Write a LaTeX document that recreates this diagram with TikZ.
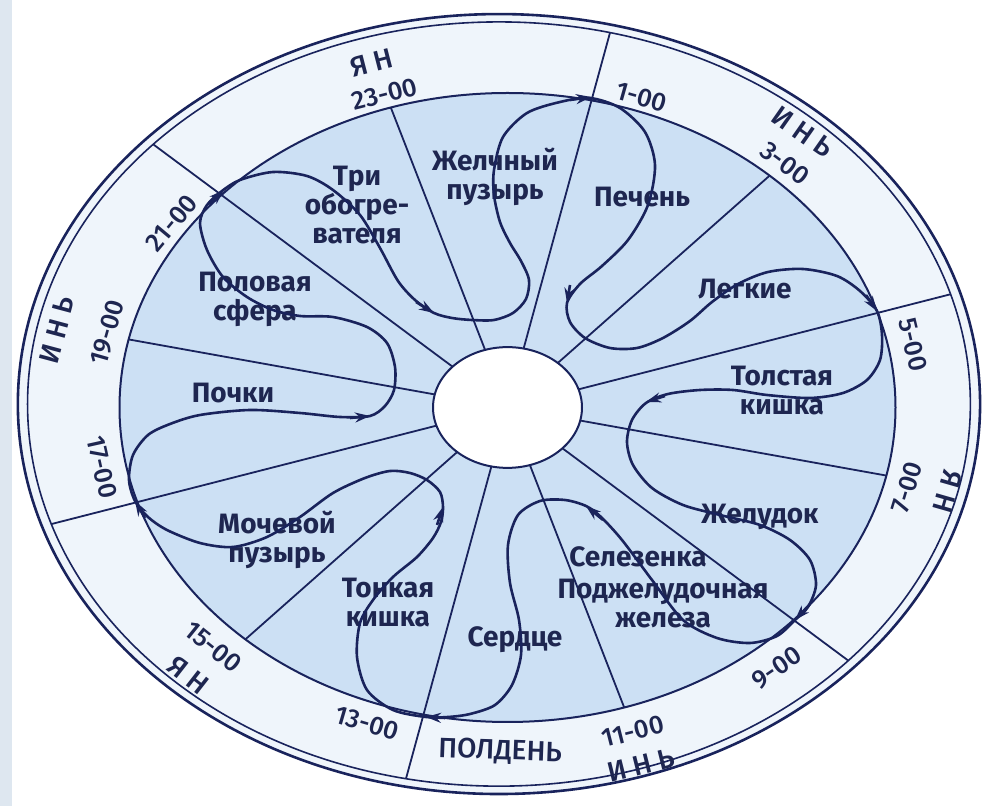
\documentclass[tikz,border=0pt]{standalone}
\usepackage{fontspec}
\setmainfont{Fira Sans}
\newfontfamily\dialfont{Fira Sans Medium}
\usetikzlibrary{arrows.meta}
\definecolor{ink}{RGB}{25,35,92}
\definecolor{textink}{RGB}{30,38,80}
\definecolor{dialblue}{RGB}{204,224,244}
\definecolor{ringwhite}{RGB}{239,245,251}
\definecolor{edgestrip}{RGB}{222,231,240}

\begin{document}
\begin{tikzpicture}[x=0.5pt,y=-0.5pt,
  organ/.style={font=\fontsize{14}{14.5}\selectfont\bfseries,text=textink,
    align=center,inner sep=0pt},
  hour/.style={font=\dialfont\fontsize{13}{14}\selectfont,text=textink,inner sep=0pt},
  phase/.style={font=\dialfont\fontsize{14}{16}\selectfont,text=textink,inner sep=0pt},
  spoke/.style={draw=ink,line width=0.9pt},
  flow/.style={draw=ink,line width=1.3pt},
  tip/.style={draw=ink,line width=1.3pt,-{Stealth[length=7.5pt,width=5pt]}}]
\useasboundingbox (0,0) rectangle (987,806);
\fill[white] (0,0) rectangle (987,806);
\fill[edgestrip] (0,0) rectangle (12,806);

% dial: ellipse space, inner rim = unit circle
\begin{scope}[shift={(507.5,407.5)},x=194pt,y=157.25pt]
  \fill[ringwhite] (-0.022,0.011) circle[radius=1.24];
  \draw[ink,line width=1.3pt] (-0.022,0.011) circle[radius=1.24];
  \draw[ink,line width=0.8pt] (-0.022,0.011) circle[radius=1.215];
  \fill[dialblue] (0,0) circle[radius=1];
  \begin{scope}
    \clip (-0.022,0.011) circle[radius=1.215];
    \foreach \a in {17.5,77.5,137.5,197.5,257.5,317.5}
      \draw[spoke] (\a:0.19) -- (\a:1.3);
  \end{scope}
  \foreach \a in {47.5,107.5,167.5,227.5,287.5,347.5}
    \draw[spoke] (\a:0.19) -- (\a:1);
  \draw[ink,line width=1pt] (0,0) circle[radius=1];
  \draw[ink,line width=1pt,fill=white] (0,0) circle[radius=0.192];

  % hours
  \foreach \t/\a/\r/\rot in {23/107.6/1.045/14.4, 1/70.7/1.045/-15.8,
      3/47.4/1.056/-36.7, 5/10.8/1.064/-76.8, 7/-13.8/1.06/73.2,
      9/-50/1.08/34.2, 11/-72.6/1.08/14.2, 13/-109.8/1.067/-16.3,
      15/-134.9/1.075/-38.9, 17/-169.7/1.062/-77.4, 19/167/1.059/74.1,
      21/145.9/1.045/50.1}
    \node[hour,rotate=\rot] (h\t) at (\a:\r) {\t-00};

  % yin / yang
  \node[phase,rotate=14.4] (yang1) at (107.7:1.151) {Я Н};
  \node[phase,rotate=-35] (yin1) at (49:1.161) {И Н Ь};
  \node[phase,rotate=-106] (yang2) at (-13.3:1.166) {Я Н};
  \node[phase,rotate=14] (yin2) at (-73.2:1.188) {И Н Ь};
  \node[phase,rotate=-2] (noon) at (-91:1.095) {ПОЛДЕНЬ};
  \node[phase,rotate=-38] (yang3) at (-134:1.184) {Я Н};
  \node[phase,rotate=75] (yin3) at (168:1.187) {И Н Ь};
\end{scope}

% organs
\node[organ] (gall) at (495,177) {Желчный\\пузырь};
\node[organ] (liver) at (642,197) {Печень};
\node[organ] (lungs) at (745,289) {Легкие};
\node[organ] (colon) at (782,391) {Толстая\\кишка};
\node[organ] (stomach) at (760,517) {Желудок};
\node[organ] (spleen) at (638,557) {Селезенка};
\node[organ] (pancreas) at (663,604) {Поджелудочная\\железа};
\node[organ] (heart) at (515,640) {Сердце};
\node[organ] (smallint) at (388,603) {Тонкая\\кишка};
\node[organ] (bladder) at (277,540) {Мочевой\\пузырь};
\node[organ] (kidney) at (233,393) {Почки};
\node[organ] (sexual) at (255,299) {Половая\\сфера};
\node[organ] (heater) at (357,205) {Три\\обогре-\\вателя};

% energy flow
\draw[flow] plot[smooth cycle,tension=0.5] coordinates {
  (590,98) (620,108) (645,132) (655,165) (648,205) (628,240) (602,266)
  (580,284) (567,303) (570,322) (585,338) (610,348) (637,348) (663,338)
  (690,321) (712,302) (738,284) (768,272) (803,269) (837,276) (860,291)
  (877,311) (882,335) (880,360) (867,380) (843,393) (810,398) (767,395)
  (733,390) (700,390) (668,394) (646,403) (632,420) (627,442) (633,465)
  (652,488) (683,505) (720,515) (760,525) (790,540) (810,560) (816,585)
  (808,607) (795,620) (777,636) (750,643) (717,638) (683,620) (652,580)
  (622,540) (601,517) (586,506) (565,500) (540,501) (518,515) (508,545)
  (510,583) (519,620) (521,655) (512,685) (495,705) (470,714) (448,717)
  (426,717) (393,710) (367,690) (357,657) (360,623) (373,600) (393,577)
  (417,557) (433,538) (441,522) (443,507) (440,492) (427,480) (410,473)
  (390,471) (365,478) (333,493) (300,517) (267,537) (233,547) (200,543)
  (167,530) (148,517) (135,501) (129,480) (133,455) (148,435) (170,424)
  (200,415) (250,410) (300,413) (340,417) (370,416) (385,406) (394,390)
  (395,367) (387,343) (367,327) (333,317) (300,316) (273,310) (247,297)
  (223,277) (207,250) (200,223) (207,205) (222,191) (240,180) (273,172)
  (307,176) (333,190) (360,215) (380,248) (398,281) (415,300) (434,313)
  (452,318) (472,320) (494,320) (513,313) (526,299) (529,280) (521,261)
  (510,243) (500,222) (494,195) (494,170) (503,137) (527,113) (560,102)};
\foreach \ax/\ay/\bx/\by in {570/100/591/97, 570/285/567/303,
    866/295/877/311, 665/396/646/402, 810/604/795/620, 603/520/586/506,
    445/718/426/717, 437/525/443/507, 145/518/135/501, 350/418/370/416,
    209/204/224/190, 416/302/434/313}
  \draw[tip] (\ax,\ay) -- (\bx,\by);
\end{tikzpicture}
\end{document}
